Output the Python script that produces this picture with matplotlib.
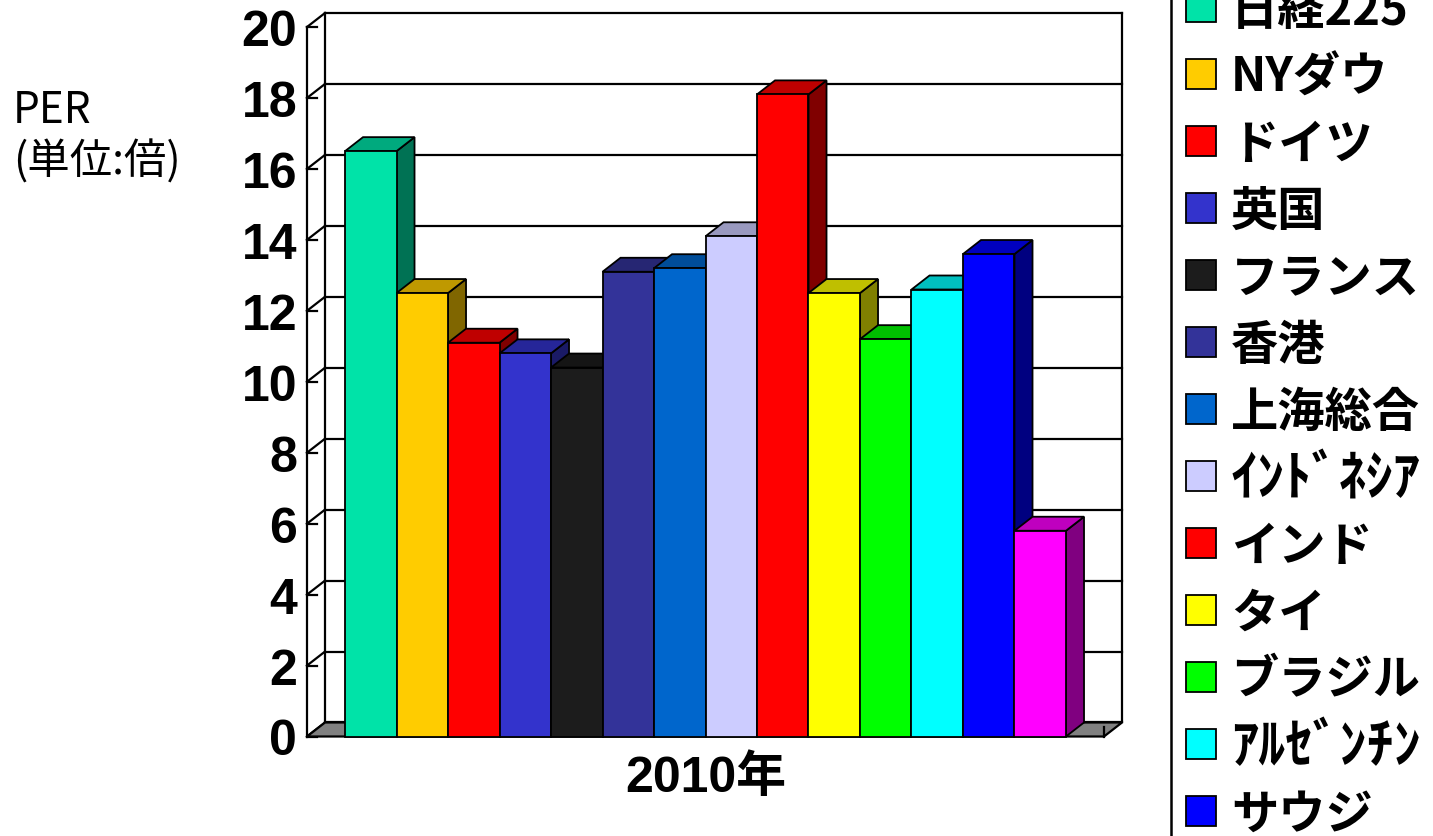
import numpy as np
import matplotlib.pyplot as plt
from matplotlib.patches import Polygon, Rectangle
from matplotlib.colors import to_rgb

####### DATA ######

Markets = ['日経225', 'NYダウ', 'ドイツ', '英国', 'フランス', '香港', '上海総合',
           'ｲﾝﾄﾞﾈｼｱ', 'インド', 'タイ', 'ブラジル', 'ｱﾙｾﾞﾝﾁﾝ', 'サウジ', None]
PER_2010 = [16.5, 12.5, 11.1, 10.8, 10.4, 13.1, 13.2,
            14.1, 18.1, 12.5, 11.2, 12.6, 13.6, 5.8]
Colors = ['#00E3A8', '#FFCC00', '#FF0000', '#3333CC', '#1C1C1C', '#333399', '#0066CC',
          '#CCCCFF', '#FF0000', '#FFFF00', '#00FF00', '#00FFFF', '#0000FF', '#FF00FF']
Y_Ticks = list(range(0, 21, 2))
Category = '2010年'

####### STYLE ######

NUM_FONT = ['Liberation Sans', 'Noto Sans CJK JP']
JP_FONT = ['Noto Sans CJK JP', 'DejaVu Sans']

X_PAD = 0.738          # floor margin left/right of the bars (bar widths)
DX, DY = 0.35, 0.395   # depth offset of the 3D box (data units)
LW = 1.6

def shade(c, f):
    r, g, b = to_rgb(c)
    return (r * f, g * f, b * f)

####### PLOT ######

fig = plt.figure(figsize=(14.33, 8.37), dpi=100)
ax = fig.add_axes([307 / 1433, 99.5 / 837, 797 / 1433, 709.5 / 837])
ax.set_axis_off()
n = len(PER_2010)
x_left, x_right = -X_PAD, n + X_PAD
ax.set_xlim(x_left, x_right)
ax.set_ylim(0, 20)

# back wall, side wall, ticks and labels
for v in Y_Ticks:
    ax.plot([x_left + DX, x_right + DX], [v + DY, v + DY], color='black', lw=LW, clip_on=False, zorder=1)
    ax.plot([x_left, x_left + DX], [v, v + DY], color='black', lw=LW, clip_on=False, zorder=1)
    ax.plot([x_left, x_left + 0.19], [v, v], color='black', lw=LW, clip_on=False, zorder=1)
    ax.text(x_left - 0.19, v - 0.14, str(v), ha='right', va='center', fontsize=36,
            fontweight='bold', family=NUM_FONT)
ax.plot([x_left, x_left], [0, 20], color='black', lw=LW, clip_on=False, zorder=1)
ax.plot([x_left + DX, x_left + DX], [DY, 20 + DY], color='black', lw=LW, clip_on=False, zorder=1)
ax.plot([x_right + DX, x_right + DX], [DY, 20 + DY], color='black', lw=LW, clip_on=False, zorder=1)

# floor
floor = Polygon([(x_left, 0), (x_right, 0), (x_right + DX, DY), (x_left + DX, DY)],
                closed=True, facecolor='#808080', edgecolor='black', lw=LW, clip_on=False, zorder=2)
ax.add_patch(floor)
ax.plot([x_right, x_right], [0, 0.27], color='black', lw=LW, clip_on=False, zorder=2)

# bars (side, top, front) from left to right
z = 3
for i, (val, col) in enumerate(zip(PER_2010, Colors)):
    xa, xb = i, i + 1
    side = Polygon([(xb, 0), (xb + DX, DY), (xb + DX, val + DY), (xb, val)], closed=True,
                   facecolor=shade(col, 0.5), edgecolor='black', lw=1.3, clip_on=False, zorder=z)
    top = Polygon([(xa, val), (xb, val), (xb + DX, val + DY), (xa + DX, val + DY)], closed=True,
                  facecolor=shade(col, 0.75), edgecolor='black', lw=1.3, clip_on=False, zorder=z + 1)
    front = Rectangle((xa, 0), 1, val, facecolor=col, edgecolor='black', lw=1.3,
                      clip_on=False, zorder=z + 2)
    ax.add_patch(side)
    ax.add_patch(top)
    ax.add_patch(front)
    z += 3

# category label
ax.text(n / 2, -1.15, Category, ha='center', va='center', fontsize=36,
        fontweight='bold', family=NUM_FONT)

# y axis title
fig.text(13 / 1433, 1 - 111 / 837, 'PER', ha='left', va='center', fontsize=30.5, family=JP_FONT)
fig.text(13 / 1433, 1 - 162 / 837, '(単位:倍)', ha='left', va='center', fontsize=30.5, family=JP_FONT)

####### LEGEND ######

lax = fig.add_axes([1169 / 1433, 0, 264 / 1433, 1])
lax.set_axis_off()
lax.set_xlim(0, 264)
lax.set_ylim((837 - 8) / 67, -8 / 67)
lax.add_patch(Rectangle((1.5, -1), 400, 16, fill=False, edgecolor='black', lw=1.8))
for r, (name, col) in enumerate(zip(Markets, Colors)):
    if name is None:
        continue
    lax.add_patch(Rectangle((17, r - 0.23), 30, 0.46, facecolor=col, edgecolor='black', lw=1.3))
    # half-width katakana labels drawn a bit larger, as in the source
    size = 39 if name[0] in 'ｲｱ' else 34
    lax.text(62, r + 0.04, name, ha='left', va='center', fontsize=size, fontweight='bold', family=JP_FONT)

fig.savefig('out.png', dpi=100, facecolor='white')
